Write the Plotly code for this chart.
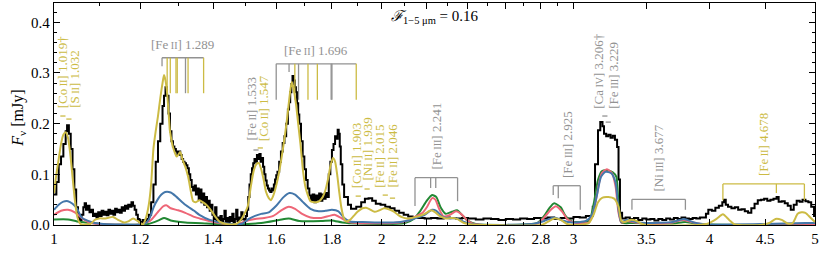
import math
import plotly.graph_objects as go

GOLD = "#CCBB44"
BLUE = "#4477AA"
RED = "#EE6677"
GREEN = "#228833"
GRAY = "#929292"
FONT = "Liberation Serif, DejaVu Serif, Times New Roman, serif"

# ---------------- observed spectrum (black) ----------------
obs_wave = [
    1.000, 1.005, 1.010, 1.015, 1.020, 1.025, 1.028, 1.032, 1.036, 1.040, 1.044, 1.048, 1.052, 1.056,
    1.060, 1.064, 1.067, 1.070, 1.074, 1.078, 1.082, 1.086, 1.090, 1.094, 1.098, 1.102, 1.106, 1.110,
    1.114, 1.118, 1.122, 1.126, 1.130, 1.134, 1.138, 1.142, 1.146, 1.150, 1.154, 1.158, 1.162, 1.166,
    1.170, 1.174, 1.178, 1.182, 1.186, 1.190, 1.194, 1.198, 1.202, 1.206, 1.210, 1.216, 1.222, 1.228,
    1.234, 1.240, 1.246, 1.252, 1.258, 1.262, 1.266, 1.270, 1.274, 1.278, 1.282, 1.286, 1.290, 1.294,
    1.298, 1.302, 1.306, 1.310, 1.314, 1.318, 1.322, 1.326, 1.330, 1.334, 1.338, 1.342, 1.346, 1.350,
    1.354, 1.358, 1.362, 1.366, 1.370, 1.374, 1.378, 1.382, 1.386, 1.390, 1.394, 1.398, 1.402, 1.406,
    1.410, 1.414, 1.418, 1.422, 1.426, 1.430, 1.434, 1.438, 1.442, 1.446, 1.450, 1.454, 1.458, 1.462,
    1.466, 1.470, 1.474, 1.478, 1.482, 1.486, 1.490, 1.496, 1.500, 1.504, 1.508, 1.512, 1.516, 1.520,
    1.524, 1.528, 1.532, 1.536, 1.540, 1.544, 1.548, 1.552, 1.556, 1.560, 1.564, 1.568, 1.572, 1.576,
    1.580, 1.584, 1.588, 1.592, 1.596, 1.600, 1.604, 1.610, 1.616, 1.622, 1.628, 1.634, 1.640, 1.644,
    1.648, 1.652, 1.656, 1.660, 1.664, 1.668, 1.672, 1.676, 1.680, 1.686, 1.692, 1.698, 1.704, 1.710,
    1.716, 1.722, 1.728, 1.734, 1.740, 1.746, 1.752, 1.758, 1.764, 1.770, 1.776, 1.782, 1.788, 1.794,
    1.800, 1.806, 1.812, 1.818, 1.822, 1.826, 1.830, 1.834, 1.840, 1.847, 1.862, 1.874, 1.895, 1.915,
    1.930, 1.945, 1.960, 1.975, 1.995, 2.015, 2.035, 2.055, 2.075, 2.095, 2.115, 2.135, 2.160, 2.190,
    2.220, 2.250, 2.280, 2.310, 2.340, 2.370, 2.400, 2.440, 2.480, 2.520, 2.560, 2.600, 2.640, 2.680,
    2.720, 2.760, 2.800, 2.840, 2.880, 2.920, 2.960, 3.000, 3.040, 3.080, 3.100, 3.125, 3.140, 3.160,
    3.175, 3.190, 3.200, 3.215, 3.230, 3.245, 3.260, 3.275, 3.290, 3.300, 3.310, 3.325, 3.350, 3.380,
    3.410, 3.440, 3.470, 3.500, 3.530, 3.560, 3.590, 3.620, 3.650, 3.680, 3.710, 3.740, 3.770, 3.800,
    3.830, 3.860, 3.890, 3.920, 3.950, 3.970, 3.990, 4.020, 4.050, 4.080, 4.110, 4.125, 4.140, 4.160,
    4.190, 4.220, 4.250, 4.280, 4.310, 4.340, 4.370, 4.400, 4.430, 4.460, 4.490, 4.520, 4.550, 4.580,
    4.610, 4.630, 4.660, 4.690, 4.720, 4.750, 4.780, 4.810, 4.840, 4.870, 4.900, 4.930, 4.960, 4.990,
]
obs_flux = [
    0.060, 0.085, 0.120, 0.135, 0.160, 0.185, 0.197, 0.180, 0.150, 0.110, 0.070, 0.035, 0.015, 0.010,
    0.020, 0.035, 0.043, 0.030, 0.038, 0.025, 0.030, 0.018, 0.022, 0.015, 0.025, 0.018, 0.028, 0.020,
    0.026, 0.019, 0.030, 0.022, 0.028, 0.020, 0.032, 0.025, 0.030, 0.024, 0.035, 0.028, 0.038, 0.032,
    0.040, 0.036, 0.045, 0.038, 0.030, 0.020, 0.012, 0.006, 0.004, 0.010, 0.008, 0.012, 0.020, 0.045,
    0.080, 0.125, 0.165, 0.200, 0.235, 0.255, 0.272, 0.255, 0.220, 0.185, 0.165, 0.155, 0.150, 0.145,
    0.140, 0.145, 0.138, 0.130, 0.125, 0.122, 0.118, 0.112, 0.100, 0.089, 0.075, 0.068, 0.078, 0.060,
    0.072, 0.050, 0.070, 0.045, 0.062, 0.040, 0.055, 0.035, 0.048, 0.028, 0.040, 0.020, 0.012, 0.035,
    0.008, 0.015, 0.005, 0.018, 0.008, 0.012, 0.028, 0.006, 0.014, 0.004, 0.016, 0.008, 0.022, 0.006,
    0.012, 0.030, 0.008, 0.015, 0.010, 0.025, 0.012, 0.008, 0.018, 0.030, 0.055, 0.080, 0.100, 0.112,
    0.122, 0.130, 0.125, 0.138, 0.130, 0.140, 0.125, 0.132, 0.115, 0.100, 0.088, 0.078, 0.072, 0.068,
    0.065, 0.072, 0.068, 0.080, 0.090, 0.098, 0.105, 0.125, 0.145, 0.162, 0.175, 0.200, 0.228, 0.242,
    0.262, 0.278, 0.294, 0.285, 0.272, 0.262, 0.240, 0.218, 0.200, 0.165, 0.135, 0.110, 0.089, 0.072,
    0.058, 0.049, 0.060, 0.045, 0.058, 0.050, 0.062, 0.048, 0.060, 0.052, 0.063, 0.055, 0.100, 0.125,
    0.148, 0.160, 0.175, 0.170, 0.188, 0.180, 0.155, 0.120, 0.080, 0.055, 0.040, 0.032, 0.036, 0.045,
    0.052, 0.053, 0.048, 0.042, 0.040, 0.036, 0.033, 0.028, 0.024, 0.020, 0.017, 0.015, 0.014, 0.013,
    0.014, 0.013, 0.015, 0.014, 0.013, 0.014, 0.013, 0.011, 0.013, 0.012, 0.010, 0.012, 0.011, 0.013,
    0.012, 0.014, 0.013, 0.015, 0.012, 0.014, 0.013, 0.016, 0.015, 0.018, 0.018, 0.036, 0.120, 0.187,
    0.203, 0.195, 0.180, 0.175, 0.178, 0.172, 0.176, 0.168, 0.154, 0.090, 0.024, 0.013, 0.015, 0.012,
    0.014, 0.010, 0.013, 0.011, 0.012, 0.009, 0.012, 0.010, 0.013, 0.011, 0.014, 0.012, 0.015, 0.013,
    0.012, 0.014, 0.013, 0.015, 0.015, 0.022, 0.030, 0.028, 0.034, 0.038, 0.045, 0.050, 0.040, 0.036,
    0.033, 0.035, 0.030, 0.031, 0.027, 0.024, 0.033, 0.042, 0.049, 0.050, 0.052, 0.048, 0.050, 0.052,
    0.055, 0.046, 0.047, 0.043, 0.038, 0.030, 0.040, 0.048, 0.046, 0.050, 0.047, 0.045, 0.036, 0.016,
]

# ---------------- models ----------------
yel_wave = [1.000, 1.005, 1.010, 1.015, 1.020, 1.025, 1.030, 1.035, 1.040, 1.045, 1.050, 1.055, 1.060,
            1.080, 1.090, 1.100, 1.115, 1.133, 1.145, 1.160, 1.170, 1.182, 1.195, 1.207, 1.215, 1.222,
            1.228, 1.234, 1.240, 1.246, 1.252, 1.258, 1.262, 1.266, 1.270, 1.274, 1.278, 1.284, 1.290,
            1.296, 1.300, 1.306, 1.312, 1.320, 1.328, 1.336, 1.342, 1.350, 1.360, 1.370, 1.380, 1.395,
            1.407, 1.420, 1.440, 1.470, 1.485, 1.506, 1.516, 1.526, 1.534, 1.542, 1.550, 1.558, 1.566,
            1.575, 1.582, 1.590, 1.600, 1.610, 1.620, 1.628, 1.636, 1.644, 1.650, 1.654, 1.660, 1.668,
            1.676, 1.684, 1.693, 1.702, 1.710, 1.720, 1.735, 1.750, 1.765, 1.775, 1.785, 1.795, 1.804,
            1.812, 1.820, 1.828, 1.836, 1.845, 1.855, 1.870, 1.885, 1.900, 1.920, 1.935, 1.950, 1.970,
            1.990, 2.010, 2.030, 2.050, 2.070, 2.090, 2.110, 2.130, 2.160, 2.190, 2.220, 2.240, 2.260,
            2.290, 2.320, 2.345, 2.380, 2.420, 2.500, 2.800, 2.840, 2.880, 2.920, 2.960, 3.000, 3.060,
            3.100, 3.130, 3.160, 3.190, 3.230, 3.270, 3.300, 3.320, 3.345, 3.380, 3.420, 3.460, 3.500,
            3.900, 3.990, 4.060, 4.115, 4.170, 4.220, 4.450, 4.540, 4.600, 4.660, 4.720, 4.770, 4.820,
            4.860, 4.900, 4.950, 5.000]
yel_flux = [0.063, 0.100, 0.130, 0.160, 0.178, 0.183, 0.172, 0.140, 0.095, 0.050, 0.018, 0.005, 0.001,
            0.002, 0.010, 0.013, 0.013, 0.016, 0.010, 0.005, 0.007, 0.013, 0.007, 0.001, 0.015, 0.040,
            0.080, 0.150, 0.185, 0.215, 0.250, 0.280, 0.296, 0.285, 0.262, 0.225, 0.185, 0.160, 0.145,
            0.135, 0.138, 0.144, 0.130, 0.115, 0.095, 0.065, 0.047, 0.045, 0.049, 0.045, 0.040, 0.028,
            0.016, 0.006, 0.002, 0.002, 0.010, 0.036, 0.075, 0.108, 0.120, 0.122, 0.110, 0.089, 0.065,
            0.053, 0.049, 0.058, 0.078, 0.105, 0.140, 0.170, 0.205, 0.245, 0.272, 0.282, 0.268, 0.240,
            0.200, 0.160, 0.108, 0.075, 0.060, 0.047, 0.045, 0.046, 0.055, 0.068, 0.090, 0.118, 0.132,
            0.125, 0.100, 0.065, 0.035, 0.015, 0.007, 0.010, 0.018, 0.026, 0.033, 0.034, 0.031, 0.026,
            0.029, 0.033, 0.031, 0.027, 0.020, 0.015, 0.013, 0.014, 0.017, 0.022, 0.029, 0.025, 0.018,
            0.013, 0.014, 0.012, 0.004, 0.001, 0.000, 0.000, 0.006, 0.013, 0.010, 0.002, 0.000, 0.001,
            0.004, 0.020, 0.045, 0.054, 0.055, 0.052, 0.036, 0.008, 0.006, 0.010, 0.009, 0.003, 0.000,
            0.000, 0.003, 0.012, 0.021, 0.010, 0.001, 0.000, 0.004, 0.012, 0.010, 0.003, 0.004, 0.022,
            0.025, 0.024, 0.015, 0.006]

blue_wave = [1.000, 1.010, 1.020, 1.030, 1.040, 1.050, 1.060, 1.075, 1.090, 1.110, 1.200, 1.215, 1.225,
             1.235, 1.245, 1.255, 1.265, 1.280, 1.295, 1.320, 1.345, 1.360, 1.390, 1.420, 1.460, 1.490,
             1.510, 1.530, 1.550, 1.575, 1.600, 1.625, 1.645, 1.665, 1.690, 1.720, 1.750, 1.775, 1.800,
             1.825, 1.845, 1.870, 1.920, 2.000, 2.080, 2.125, 2.160, 2.190, 2.225, 2.245, 2.275, 2.310,
             2.345, 2.380, 2.430, 2.750, 2.820, 2.880, 2.930, 2.990, 3.080, 3.120, 3.150, 3.180, 3.210,
             3.250, 3.280, 3.300, 3.320, 3.360, 3.420, 3.500, 3.700, 3.790, 3.870, 4.000, 4.500, 4.900,
             5.000]
blue_flux = [0.030, 0.040, 0.046, 0.047, 0.042, 0.032, 0.015, 0.008, 0.004, 0.002, 0.001, 0.004, 0.015,
             0.036, 0.050, 0.060, 0.065, 0.064, 0.056, 0.040, 0.028, 0.020, 0.010, 0.005, 0.002, 0.003,
             0.012, 0.018, 0.022, 0.025, 0.038, 0.055, 0.063, 0.060, 0.047, 0.032, 0.027, 0.028, 0.030,
             0.027, 0.015, 0.007, 0.006, 0.005, 0.006, 0.010, 0.015, 0.020, 0.030, 0.028, 0.016, 0.013,
             0.013, 0.006, 0.001, 0.002, 0.008, 0.015, 0.009, 0.005, 0.008, 0.020, 0.055, 0.095, 0.105,
             0.102, 0.083, 0.030, 0.006, 0.010, 0.006, 0.004, 0.006, 0.012, 0.005, 0.001, 0.002, 0.004,
             0.004]

red_wave = [1.000, 1.015, 1.030, 1.045, 1.060, 1.075, 1.100, 1.200, 1.225, 1.245, 1.260, 1.268, 1.280,
            1.300, 1.320, 1.345, 1.365, 1.400, 1.450, 1.480, 1.506, 1.530, 1.560, 1.590, 1.620, 1.643,
            1.665, 1.690, 1.720, 1.760, 1.790, 1.810, 1.835, 1.860, 1.900, 2.050, 2.110, 2.150, 2.180,
            2.200, 2.225, 2.240, 2.260, 2.280, 2.310, 2.340, 2.365, 2.395, 2.430, 2.780, 2.820, 2.860,
            2.890, 2.930, 2.960, 3.000, 3.100, 3.140, 3.165, 3.185, 3.220, 3.255, 3.280, 3.300, 3.320,
            3.360, 3.420, 3.550, 3.700, 3.780, 3.850, 3.950, 5.000]
red_flux = [0.020, 0.028, 0.030, 0.025, 0.014, 0.006, 0.002, 0.001, 0.008, 0.025, 0.037, 0.039, 0.033,
            0.029, 0.024, 0.016, 0.012, 0.006, 0.002, 0.003, 0.009, 0.012, 0.014, 0.018, 0.030, 0.036,
            0.032, 0.022, 0.015, 0.014, 0.018, 0.020, 0.014, 0.007, 0.004, 0.004, 0.008, 0.017, 0.024,
            0.035, 0.053, 0.050, 0.030, 0.017, 0.020, 0.027, 0.022, 0.010, 0.002, 0.003, 0.015, 0.030,
            0.037, 0.026, 0.012, 0.005, 0.005, 0.040, 0.080, 0.102, 0.110, 0.102, 0.075, 0.024, 0.005,
            0.008, 0.005, 0.002, 0.005, 0.010, 0.006, 0.001, 0.000]

green_wave = [1.000, 1.030, 1.050, 1.080, 1.120, 1.220, 1.250, 1.262, 1.280, 1.320, 1.380, 1.450, 1.550,
              1.610, 1.643, 1.680, 1.760, 1.800, 1.840, 1.900, 2.100, 2.140, 2.170, 2.200, 2.225, 2.245,
              2.265, 2.290, 2.320, 2.345, 2.370, 2.400, 2.440, 2.780, 2.820, 2.850, 2.880, 2.920, 2.950,
              2.990, 3.100, 3.130, 3.160, 3.185, 3.220, 3.260, 3.285, 3.300, 3.320, 3.400, 3.700, 3.800,
              3.900, 5.000]
green_flux = [0.011, 0.011, 0.007, 0.004, 0.001, 0.002, 0.010, 0.014, 0.009, 0.005, 0.003, 0.001, 0.004,
              0.010, 0.013, 0.008, 0.008, 0.009, 0.005, 0.003, 0.004, 0.012, 0.028, 0.048, 0.059, 0.055,
              0.035, 0.022, 0.026, 0.029, 0.020, 0.008, 0.002, 0.004, 0.018, 0.033, 0.043, 0.035, 0.018,
              0.007, 0.008, 0.040, 0.089, 0.106, 0.108, 0.104, 0.095, 0.040, 0.005, 0.004, 0.003, 0.006,
              0.002, 0.000]

# ---------------- axis ticks ----------------
x_tick_vals = [1, 1.2, 1.4, 1.6, 1.8, 2, 2.2, 2.4, 2.6, 2.8, 3, 3.5, 4, 4.5, 5]
x_tick_text = ["1", "1.2", "1.4", "1.6", "1.8", "2", "2.2", "2.4", "2.6", "2.8", "3", "3.5", "4", "4.5", "5"]
x_minor_vals = [1.1, 1.3, 1.5, 1.7, 1.9, 2.1, 2.3, 2.5, 2.7, 2.9]
y_tick_vals = [0.0, 0.1, 0.2, 0.3, 0.4]
y_tick_text = ["0.0", "0.1", "0.2", "0.3", "0.4"]

# ---------------- single-line labels ----------------
sl_wave = [1.019, 1.032, 1.533, 1.547, 1.903, 1.939, 2.015, 2.046, 3.206, 3.229]
sl_elem = ["Co", "S", "Fe", "Co", "Co", "Ni", "Fe", "Fe", "Ca", "Fe"]
sl_ion = ["II", "II", "II", "II", "II", "II", "II", "II", "IV", "III"]
sl_suffix = ["\u2020", "", "", "", "", "", "", "", "\u2020", ""]
sl_color = [GOLD, GOLD, GRAY, GOLD, GOLD, GOLD, GOLD, GOLD, GRAY, GRAY]
sl_dash_y = [0.215, 0.209, 0.148, 0.152, 0.057, 0.071, 0.059, 0.053, 0.215, 0.203]
sl_text_y = [0.227, 0.227, 0.162, 0.162, 0.069, 0.083, 0.069, 0.069, 0.225, 0.225]
sl_xshift = [0, 6, -5, 4, -2, 0, -6, 0, -6, 5]

# ---------------- bracketed multiplets ----------------
br_elem = ["Fe", "Fe", "Fe", "Fe", "Ni", "Fe"]
br_ion = ["II", "II", "III", "III", "III", "II"]
br_num = ["1.289", "1.696", "2.241", "2.925", "3.677", "4.678"]
br_vertical = [False, False, True, True, True, True]
br_color = [GRAY, GRAY, GRAY, GRAY, GRAY, GOLD]
br_top = [0.330, 0.318, 0.0933, 0.0775, 0.0507, 0.081]
br_waves = [
    [1.2567, 1.2704, 1.2788, 1.2943, 1.2978, 1.3206, 1.3278, 1.3722],
    [1.5999, 1.6440, 1.6642, 1.6773, 1.7111, 1.7454, 1.7971, 1.8000, 1.8950],
    [2.1457, 2.2178, 2.2420, 2.3479],
    [2.8743, 2.9052, 3.0434],
    [3.3949, 3.8013],
    [4.1150, 4.6078, 4.8891],
]
br_line_colors = [
    [GRAY, GOLD, GOLD, GOLD, GOLD, GRAY, GOLD, GOLD],
    [GRAY, GRAY, GOLD, GRAY, GOLD, GOLD, GRAY, GRAY, GOLD],
    [GRAY, GRAY, GRAY, GRAY],
    [GRAY, GRAY, GRAY],
    [GRAY, GRAY],
    [GOLD, GOLD, GOLD],
]
br_bottoms = [
    [0.313, 0.26, 0.26, 0.26, 0.26, 0.26, 0.26, 0.26],
    [0.247, 0.302, 0.247, 0.247, 0.247, 0.247, 0.247, 0.247, 0.247],
    [0.0375, 0.073, 0.073, 0.047],
    [0.059, 0.053, 0.030],
    [0.030, 0.030],
    [0.049, 0.063, 0.049],
]


def ion_label(el, st, size):
    return "[" + el + "<span style='font-size:%dpx'> %s</span>]" % (size, st)


fig = go.Figure()

fig.add_trace(go.Scatter(x=obs_wave, y=obs_flux, mode="lines", line=dict(color="black", width=2, shape="hv"),
                         hoverinfo="skip", showlegend=False))
for w, f, c in [(green_wave, green_flux, GREEN), (red_wave, red_flux, RED), (blue_wave, blue_flux, BLUE),
                (yel_wave, yel_flux, GOLD)]:
    fig.add_trace(go.Scatter(x=w, y=f, mode="lines", line=dict(color=c, width=2, shape="spline", smoothing=0.6),
                             hoverinfo="skip", showlegend=False))

segs = {GRAY: ([], []), GOLD: ([], [])}


def seg(color, x0, x1, y0, y1):
    xs, ys = segs[color]
    xs.extend([x0, x1, None])
    ys.extend([y0, y1, None])


annotations = []
DASH = 1.0055
for i, w in enumerate(sl_wave):
    seg(sl_color[i], w / DASH, w * DASH, sl_dash_y[i], sl_dash_y[i])
    annotations.append(dict(
        x=math.log10(w), y=sl_text_y[i], xref="x", yref="y", xanchor="center", yanchor="bottom",
        textangle=-90, showarrow=False, xshift=sl_xshift[i],
        text=ion_label(sl_elem[i], sl_ion[i], 10) + " " + ("%.3f" % w) + sl_suffix[i],
        font=dict(family=FONT, size=13, color=sl_color[i])))

for k, waves in enumerate(br_waves):
    top = br_top[k]
    seg(br_color[k], waves[0], waves[-1], top, top)
    for j, w in enumerate(waves):
        seg(br_line_colors[k][j], w, w, top, br_bottoms[k][j])
    xc = 0.5 * (math.log10(waves[0]) + math.log10(waves[-1]))
    txt = ion_label(br_elem[k], br_ion[k], 10) + " " + br_num[k]
    if br_vertical[k]:
        annotations.append(dict(x=xc, y=top, xref="x", yref="y", xanchor="center", yanchor="bottom",
                                yshift=6, textangle=-90, showarrow=False, text=txt,
                                font=dict(family=FONT, size=13, color=br_color[k])))
    else:
        annotations.append(dict(x=xc, y=top, xref="x", yref="y", xanchor="center", yanchor="middle",
                                yshift=13, showarrow=False, text=txt,
                                font=dict(family=FONT, size=13, color=GRAY)))

for c, (xs, ys) in segs.items():
    fig.add_trace(go.Scatter(x=xs, y=ys, mode="lines", line=dict(color=c, width=1.3),
                             hoverinfo="skip", showlegend=False))

annotations.append(dict(x=0.5, y=0.935, xref="paper", yref="paper", xanchor="center", yanchor="middle",
                        showarrow=False, text="<i>\u2131</i><sub>1\u22125 \u03bcm</sub> = 0.16",
                        font=dict(family=FONT, size=15, color="black")))
annotations.append(dict(x=-0.047, y=0.48, xref="paper", yref="paper", xanchor="center", yanchor="middle",
                        showarrow=False, textangle=-90, text="<i>F</i><sub>\u03bd</sub> [mJy]",
                        font=dict(family=FONT, size=16, color="black")))

fig.update_layout(
    width=831, height=271,
    margin=dict(l=54, r=16, t=3, b=46, autoexpand=False),
    paper_bgcolor="white", plot_bgcolor="white",
    font=dict(family=FONT, size=14, color="black"),
    annotations=annotations,
    showlegend=False,
)
fig.update_xaxes(
    type="log", range=[0, math.log10(5)], automargin=False,
    tickvals=x_tick_vals, ticktext=x_tick_text,
    ticks="inside", ticklen=6, tickwidth=1, tickcolor="black",
    minor=dict(tickvals=x_minor_vals, ticks="inside", ticklen=3, tickcolor="black"),
    showline=True, linecolor="black", linewidth=1.2, mirror="allticks",
    showgrid=False, zeroline=False, tickfont=dict(family=FONT, size=15),
)
fig.update_yaxes(
    range=[0, 0.438], automargin=False,
    tickvals=y_tick_vals, ticktext=y_tick_text,
    ticks="inside", ticklen=6, tickwidth=1, tickcolor="black",
    minor=dict(dtick=0.02, ticks="inside", ticklen=3, tickcolor="black"),
    showline=True, linecolor="black", linewidth=1.2, mirror="allticks",
    showgrid=False, zeroline=False, tickfont=dict(family=FONT, size=15),
)

fig.write_html("out.html", config={"staticPlot": True},
               post_script="document.body.style.margin='0px';document.body.style.padding='0px';")
